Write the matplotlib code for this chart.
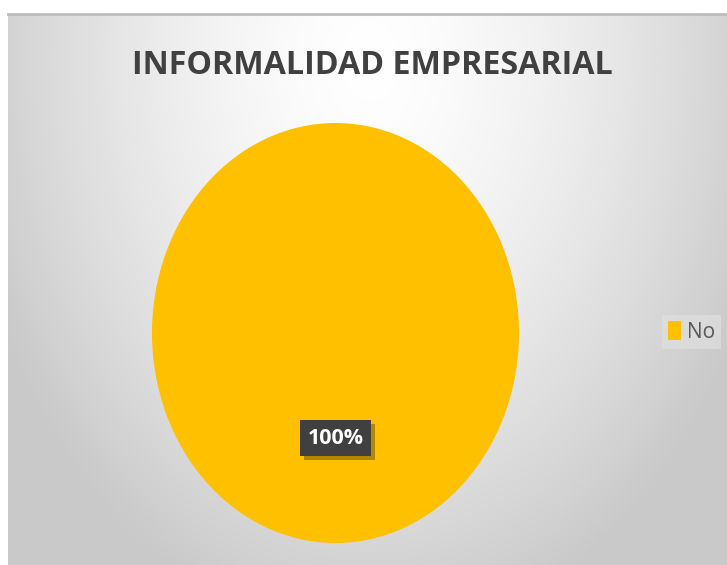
import matplotlib.pyplot as plt
import matplotlib.patheffects as pe
from matplotlib.patches import Patch
import numpy as np

# data
categories = ['No']
values = [100]
colors = ['#FFC000']
title = 'INFORMALIDAD EMPRESARIAL'

W, H = 727, 565
fig = plt.figure(figsize=(W / 100, H / 100), dpi=100)
fig.patch.set_facecolor('white')

# chart area background: soft radial gradient
bg = fig.add_axes([8 / W, 0, (W - 8) / W, (H - 14) / H])
xx, yy = np.meshgrid(np.arange(8, W), np.arange(14, H))
d = np.sqrt(((xx - 370) / 400.0) ** 2 + ((yy - 60) / 560.0) ** 2)
shade = np.clip(1 - 0.2 * d ** 1.5, 0.79, 1)
bg.imshow(np.dstack([shade] * 3), aspect='auto', interpolation='bilinear')
bg.set_xticks([])
bg.set_yticks([])
for s in ['left', 'right', 'bottom']:
    bg.spines[s].set_visible(False)
bg.spines['top'].set_color('#bdbdbd')
bg.spines['top'].set_linewidth(2)

# pie (stretched vertically like the original)
ax = fig.add_axes([152 / W, (H - 543) / H, 367 / W, 420 / H])
wedges, texts, autotexts = ax.pie(values, colors=colors, startangle=90,
                                  autopct='%1.0f%%', pctdistance=0.5,
                                  wedgeprops=dict(linewidth=0))
ax.set_aspect('auto')
ax.set_xlim(-1, 1)
ax.set_ylim(-1, 1)
ax.axis('off')

for t in autotexts:
    t.set_color('white')
    t.set_fontsize(15.5)
    t.set_fontweight('bold')
    t.set_family(['Open Sans', 'DejaVu Sans'])
    t.set_bbox(dict(boxstyle='square,pad=0.35', fc='#404040', ec='none'))
    t.get_bbox_patch().set_path_effects([
        pe.SimplePatchShadow(offset=(3, -3), shadow_rgbFace='#000000', alpha=0.3),
        pe.Normal()])

fig.text(372 / W, 1 - 65 / H, title, ha='center', va='center',
         fontsize=23.2, fontweight='bold', color='#404040',
         family=['Open Sans', 'DejaVu Sans'])

handles = [Patch(facecolor=c, edgecolor='none') for c in colors]
leg = fig.legend(handles, categories, loc='center left',
                 bbox_to_anchor=(662 / W, 1 - 332 / H), frameon=True,
                 fontsize=15, handlelength=0.6, handleheight=1.0,
                 handletextpad=0.3, borderaxespad=0, borderpad=0.3,
                 fancybox=False)
leg.get_frame().set_facecolor('#e2e2e2')
leg.get_frame().set_edgecolor('none')
leg.get_frame().set_alpha(0.6)
for t in leg.get_texts():
    t.set_color('#595959')
    t.set_family(['Open Sans', 'DejaVu Sans'])

fig.savefig('out.png', dpi=100)
